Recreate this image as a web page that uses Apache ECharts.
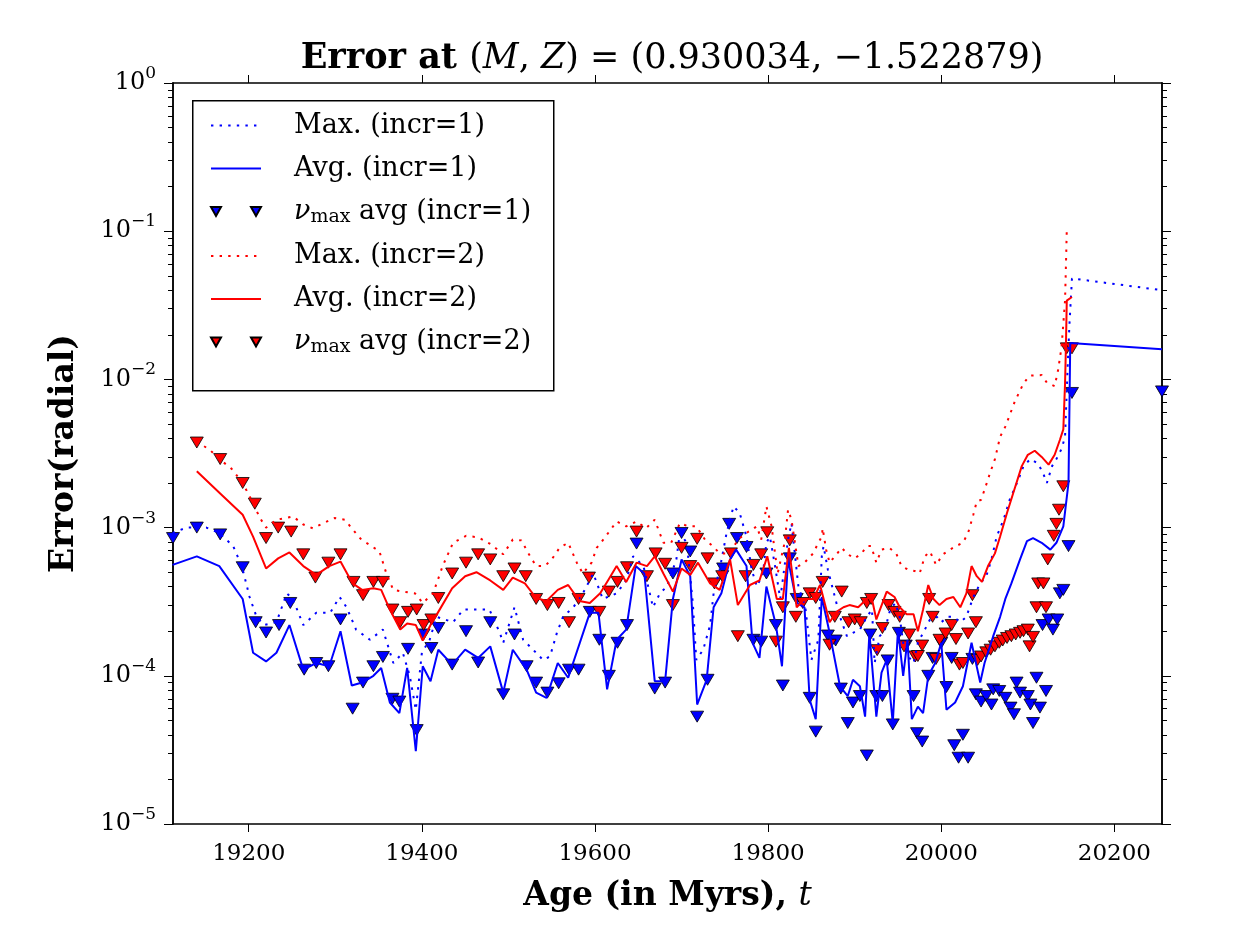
<!DOCTYPE html>
<html>
<head>
<meta charset="utf-8">
<script src="https://cdn.jsdelivr.net/npm/echarts@6/dist/echarts.min.js"></script>
<style>
html,body{margin:0;padding:0;background:#fff;}
#chart{width:1250px;height:938px;}
</style>
</head>
<body>
<div id="chart"></div>
<script>
// ---------------- data (age in Myrs, radial error) ----------------
const xTickValues = [19200, 19400, 19600, 19800, 20000, 20200];
const yTickValues = [1e-5, 1e-4, 1e-3, 1e-2, 1e-1, 1];

const max1 = [[19112,9.2e-4],[19128,1.0e-3],[19151,1.0e-3],[19166,9.2e-4],[19182,7.5e-4],[19192,5.5e-4],[19201,3.4e-4],[19209,2.5e-4],[19218,2.2e-4],[19232,2.3e-4],[19244,3.6e-4],[19251,3.3e-4],[19263,2.2e-4],[19278,2.66e-4],[19294,2.66e-4],[19305,3.4e-4],[19313,2.9e-4],[19324,2.05e-4],[19340,1.75e-4],[19355,2.05e-4],[19367,1.22e-4],[19378,1.43e-4],[19386,1.0e-4],[19393,5.9e-5],[19400,1.43e-4],[19409,1.75e-4],[19417,2.5e-4],[19436,2.3e-4],[19448,2.8e-4],[19463,2.8e-4],[19478,2.8e-4],[19490,1.95e-4],[19494,1.67e-4],[19507,2.9e-4],[19517,1.75e-4],[19532,1.43e-4],[19540,1.28e-4],[19548,1.35e-4],[19556,1.95e-4],[19563,2.5e-4],[19575,2.9e-4],[19586,3.6e-4],[19598,4.9e-4],[19609,3.3e-4],[19625,3.6e-4],[19636,4.4e-4],[19644,6.4e-4],[19656,5.5e-4],[19667,2.9e-4],[19675,3.6e-4],[19683,4.0e-4],[19694,6.1e-4],[19698,9.2e-4],[19706,7.9e-4],[19713,3.1e-4],[19717,1.28e-4],[19725,1.5e-4],[19733,2.2e-4],[19737,3.6e-4],[19744,5.2e-4],[19752,9.2e-4],[19760,1.39e-3],[19767,1.26e-3],[19775,8.7e-4],[19781,5.2e-4],[19787,4.0e-4],[19794,4.9e-4],[19798,7.9e-4],[19802,8.7e-4],[19808,5.5e-4],[19814,3.3e-4],[19823,8.3e-4],[19827,1.07e-3],[19835,4.0e-4],[19843,2.9e-4],[19850,1.28e-4],[19858,1.75e-4],[19862,6.4e-4],[19864,7.5e-4],[19869,5.2e-4],[19875,3.8e-4],[19883,2.5e-4],[19891,1.85e-4],[19898,1.95e-4],[19906,2.05e-4],[19914,2.5e-4],[19920,2.8e-4],[19923,1.22e-4],[19929,1.85e-4],[19935,2.05e-4],[19941,2.8e-4],[19947,3.1e-4],[19952,2.5e-4],[19956,1.67e-4],[19962,1.35e-4],[19968,1.22e-4],[19973,1.67e-4],[19981,2.05e-4],[19987,2.4e-4],[19995,2.5e-4],[20000,2.3e-4],[20008,2.5e-4],[20014,2.5e-4],[20022,2.3e-4],[20029,2.5e-4],[20037,3.4e-4],[20045,4.2e-4],[20052,4.7e-4],[20058,6.1e-4],[20064,8.7e-4],[20072,1.13e-3],[20079,1.54e-3],[20089,2.1e-3],[20095,2.6e-3],[20103,2.9e-3],[20112,2.7e-3],[20118,2.3e-3],[20122,2.0e-3],[20128,2.6e-3],[20133,2.9e-3],[20139,3.4e-3],[20143,4.1e-3],[20146,1.22e-2],[20148,2.3e-2],[20151,4.8e-2],[20255,4.0e-2]];

const avg1 = [[19112,5.6e-4],[19140,6.4e-4],[19166,5.5e-4],[19193,3.3e-4],[19205,1.43e-4],[19220,1.25e-4],[19232,1.43e-4],[19247,2.2e-4],[19263,1.1e-4],[19278,1.22e-4],[19293,1.16e-4],[19306,2.0e-4],[19319,8.6e-5],[19331,9.0e-5],[19344,1.0e-4],[19353,1.13e-4],[19363,6.6e-5],[19374,5.6e-5],[19383,1.13e-4],[19393,3.1e-5],[19401,1.16e-4],[19410,9.2e-5],[19419,1.5e-4],[19435,1.19e-4],[19450,1.5e-4],[19465,1.32e-4],[19479,1.58e-4],[19494,7.7e-5],[19505,1.5e-4],[19521,1.1e-4],[19532,7.7e-5],[19544,7.1e-5],[19557,1.22e-4],[19569,9.7e-5],[19594,2.66e-4],[19604,2.66e-4],[19614,8.1e-5],[19625,1.75e-4],[19636,2.05e-4],[19647,5.5e-4],[19657,4.9e-4],[19669,9.2e-5],[19681,9.2e-5],[19690,3.3e-4],[19700,6.1e-4],[19710,4.7e-4],[19718,6.4e-5],[19729,9.4e-5],[19737,2.9e-4],[19746,3.6e-4],[19756,6.1e-4],[19763,7.1e-4],[19775,5.5e-4],[19782,1.67e-4],[19790,1.32e-4],[19798,4.0e-4],[19809,2.2e-4],[19816,1.16e-4],[19823,6.1e-4],[19833,3.1e-4],[19842,2.9e-4],[19848,6.9e-5],[19855,5.1e-5],[19862,3.4e-4],[19871,1.95e-4],[19883,8.5e-5],[19892,7.3e-5],[19898,9.4e-5],[19906,8.5e-5],[19912,5.3e-5],[19917,1.95e-4],[19925,5.3e-5],[19931,1.05e-4],[19937,1.28e-4],[19944,4.8e-5],[19950,2.05e-4],[19956,1.0e-4],[19961,1.75e-4],[19966,5.1e-5],[19973,6.2e-5],[19979,5.6e-5],[19985,1.0e-4],[19993,1.22e-4],[20000,1.67e-4],[20006,5.9e-5],[20016,6.6e-5],[20025,8.5e-5],[20035,1.67e-4],[20045,9.0e-5],[20050,1.22e-4],[20060,1.85e-4],[20068,2.5e-4],[20074,3.3e-4],[20081,4.2e-4],[20091,6.1e-4],[20099,8.1e-4],[20106,8.5e-4],[20116,7.9e-4],[20126,7.1e-4],[20133,7.9e-4],[20141,1.02e-3],[20147,2.0e-3],[20149,1.76e-2],[20255,1.6e-2]];

const nu1 = [[19112.5,8.5e-4],[19140,1.0e-3],[19167,9.0e-4],[19193,5.4e-4],[19208,2.3e-4],[19220,1.96e-4],[19235,2.2e-4],[19248,3.1e-4],[19264,1.1e-4],[19278,1.22e-4],[19292,1.16e-4],[19306,2.4e-4],[19320,6.0e-5],[19332,9.0e-5],[19344,1.16e-4],[19355,1.34e-4],[19366,7.0e-5],[19374,6.7e-5],[19384,1.52e-4],[19394,4.3e-5],[19402,1.9e-4],[19411,1.54e-4],[19419,2.1e-4],[19435,1.19e-4],[19451,2.0e-4],[19465,1.23e-4],[19479,2.3e-4],[19494,7.5e-5],[19507,1.9e-4],[19521,1.16e-4],[19532,9.0e-5],[19545,7.7e-5],[19558,8.9e-5],[19570,1.1e-4],[19581,1.1e-4],[19594,2.7e-4],[19605,1.75e-4],[19616,1.0e-4],[19626,1.67e-4],[19637,2.2e-4],[19648,7.8e-4],[19669,8.2e-5],[19681,9.0e-5],[19690,4.9e-4],[19700,9.2e-4],[19710,6.9e-4],[19718,5.3e-5],[19730,9.4e-5],[19748,5.3e-4],[19755,1.06e-3],[19764,8.5e-4],[19775,7.4e-4],[19783,1.75e-4],[19792,1.7e-4],[19798,4.9e-4],[19809,2.2e-4],[19817,8.6e-5],[19825,6.2e-4],[19833,3.3e-4],[19848,7.1e-5],[19855,4.2e-5],[19869,1.87e-4],[19878,1.73e-4],[19884,8.2e-5],[19892,4.8e-5],[19898,6.6e-5],[19906,7.3e-5],[19914,2.9e-5],[19918,1.9e-4],[19925,7.3e-5],[19932,7.3e-5],[19938,1.27e-4],[19944,4.7e-5],[19951,1.95e-4],[19959,1.6e-4],[19968,7.3e-5],[19972,4.1e-5],[19978,3.6e-5],[19985,1.0e-4],[19990,1.32e-4],[20000,1.67e-4],[20006,8.4e-5],[20012,1.32e-4],[20015,3.4e-5],[20020,2.8e-5],[20025,4.0e-5],[20031,2.8e-5],[20036,1.3e-4],[20040,7.5e-5],[20046,6.7e-5],[20052,7.3e-5],[20058,6.4e-5],[20060,8.1e-5],[20067,7.9e-5],[20074,7.1e-5],[20080,6.1e-5],[20084,5.5e-5],[20087,9.0e-5],[20091,7.7e-5],[20100,7.3e-5],[20103,6.4e-5],[20106,4.8e-5],[20110,9.7e-5],[20114,6.1e-5],[20121,7.9e-5],[20117,2.2e-4],[20124,2.4e-4],[20129,2.05e-4],[20134,2.4e-4],[20137,3.6e-4],[20141,3.8e-4],[20147,7.5e-4],[20151,8.1e-3],[20255,8.3e-3]];

const max2 = [[19140,3.8e-3],[19155,3.35e-3],[19166,2.9e-3],[19180,2.5e-3],[19193,2.0e-3],[19203,1.54e-3],[19213,1.16e-3],[19220,1.0e-3],[19232,1.13e-3],[19242,1.16e-3],[19251,1.19e-3],[19263,1.05e-3],[19274,9.9e-4],[19286,1.07e-3],[19299,1.16e-3],[19311,1.13e-3],[19319,9.9e-4],[19330,8.3e-4],[19342,7.5e-4],[19351,6.9e-4],[19359,4.9e-4],[19367,3.8e-4],[19378,3.7e-4],[19392,3.6e-4],[19401,3.1e-4],[19413,3.6e-4],[19424,5.5e-4],[19436,7.9e-4],[19451,8.8e-4],[19465,8.6e-4],[19480,7.7e-4],[19494,6.6e-4],[19505,8.3e-4],[19515,8.2e-4],[19523,6.7e-4],[19532,5.5e-4],[19542,5.5e-4],[19550,6.1e-4],[19559,7.3e-4],[19569,7.9e-4],[19579,5.8e-4],[19586,4.9e-4],[19596,5.8e-4],[19602,7.3e-4],[19611,8.5e-4],[19625,1.1e-3],[19636,1.02e-3],[19648,1.1e-3],[19659,9.9e-4],[19669,1.13e-3],[19679,7.9e-4],[19688,7.9e-4],[19698,1.07e-3],[19708,1.02e-3],[19717,1.02e-3],[19727,8.3e-4],[19736,7.5e-4],[19744,6.7e-4],[19756,6.7e-4],[19765,8.3e-4],[19775,9.2e-4],[19787,1.02e-3],[19792,8.3e-4],[19798,1.39e-3],[19804,1.02e-3],[19811,4.9e-4],[19819,7.9e-4],[19823,1.32e-3],[19827,1.13e-3],[19835,5.5e-4],[19842,5.8e-4],[19852,6.7e-4],[19858,7.9e-4],[19862,8.7e-4],[19863,9.9e-4],[19867,7.1e-4],[19871,5.8e-4],[19879,6.6e-4],[19885,7.3e-4],[19892,6.6e-4],[19900,6.2e-4],[19908,6.7e-4],[19914,7.5e-4],[19919,7.5e-4],[19925,5.8e-4],[19931,7.1e-4],[19940,7.3e-4],[19948,6.7e-4],[19954,5.5e-4],[19962,5.2e-4],[19969,5.1e-4],[19975,4.9e-4],[19981,6.4e-4],[19987,6.9e-4],[19994,5.6e-4],[20002,6.6e-4],[20010,7.1e-4],[20017,7.5e-4],[20025,7.9e-4],[20031,9.2e-4],[20037,1.22e-3],[20041,1.5e-3],[20046,1.54e-3],[20050,1.8e-3],[20056,2.3e-3],[20062,2.9e-3],[20068,4.1e-3],[20074,4.8e-3],[20085,7.1e-3],[20095,9.4e-3],[20102,1.06e-2],[20116,1.07e-2],[20122,9.5e-3],[20131,9.0e-3],[20135,1.16e-2],[20139,1.66e-2],[20143,3.4e-2],[20144,5.8e-2],[20145,1.02e-1]];

const avg2 = [[19140,2.4e-3],[19167,1.7e-3],[19193,1.22e-3],[19205,8.7e-4],[19220,5.3e-4],[19234,6.2e-4],[19247,6.8e-4],[19263,5.5e-4],[19278,4.8e-4],[19293,5.5e-4],[19306,5.9e-4],[19320,4.2e-4],[19331,3.8e-4],[19344,3.9e-4],[19353,3.8e-4],[19363,2.8e-4],[19375,2.05e-4],[19383,2.25e-4],[19393,2.2e-4],[19401,1.73e-4],[19410,2.2e-4],[19419,2.7e-4],[19435,3.9e-4],[19450,4.7e-4],[19463,5.0e-4],[19479,4.4e-4],[19494,3.8e-4],[19505,4.6e-4],[19519,4.2e-4],[19532,3.35e-4],[19544,3.2e-4],[19557,3.8e-4],[19569,4.1e-4],[19582,3.2e-4],[19594,3.1e-4],[19606,3.6e-4],[19615,4.4e-4],[19625,5.5e-4],[19636,4.3e-4],[19648,5.8e-4],[19660,5.5e-4],[19669,6.4e-4],[19679,4.9e-4],[19690,3.7e-4],[19700,5.3e-4],[19710,4.8e-4],[19719,5.8e-4],[19733,4.2e-4],[19744,3.8e-4],[19756,6.1e-4],[19765,3.0e-4],[19779,4.1e-4],[19790,4.4e-4],[19799,6.4e-4],[19810,3.3e-4],[19817,3.3e-4],[19824,7.3e-4],[19833,2.9e-4],[19842,3.3e-4],[19852,3.3e-4],[19860,4.1e-4],[19871,2.3e-4],[19879,2.7e-4],[19887,2.9e-4],[19894,3.0e-4],[19904,2.9e-4],[19914,3.3e-4],[19919,3.5e-4],[19925,2.4e-4],[19937,3.7e-4],[19946,3.4e-4],[19952,2.9e-4],[19960,2.6e-4],[19968,2.6e-4],[19973,2.0e-4],[19979,2.8e-4],[19985,4.1e-4],[19991,3.3e-4],[19998,3.0e-4],[20006,3.3e-4],[20014,3.4e-4],[20022,2.9e-4],[20029,3.6e-4],[20035,5.5e-4],[20041,4.7e-4],[20047,4.3e-4],[20054,5.5e-4],[20062,6.7e-4],[20068,8.7e-4],[20076,1.26e-3],[20083,1.7e-3],[20093,2.6e-3],[20100,3.1e-3],[20108,3.3e-3],[20116,3.0e-3],[20124,2.66e-3],[20131,3.1e-3],[20137,3.9e-3],[20141,4.6e-3],[20143,9.4e-3],[20144,1.66e-2],[20145,3.4e-2],[20151,3.6e-2]];

const nu2 = [[19140,3.75e-3],[19167,2.9e-3],[19193,2.0e-3],[19207,1.45e-3],[19220,8.5e-4],[19234,1.0e-3],[19249,9.4e-4],[19263,6.6e-4],[19277,4.6e-4],[19292,5.8e-4],[19306,6.6e-4],[19321,4.3e-4],[19332,3.5e-4],[19344,4.3e-4],[19355,4.3e-4],[19366,2.8e-4],[19375,2.3e-4],[19384,2.7e-4],[19394,2.8e-4],[19402,2.2e-4],[19411,2.4e-4],[19419,3.35e-4],[19435,4.9e-4],[19451,5.8e-4],[19465,6.6e-4],[19479,6.1e-4],[19494,4.7e-4],[19507,5.3e-4],[19520,4.7e-4],[19532,3.3e-4],[19545,3.0e-4],[19558,3.1e-4],[19570,2.3e-4],[19581,3.3e-4],[19593,4.6e-4],[19605,2.7e-4],[19616,3.7e-4],[19626,4.3e-4],[19637,5.4e-4],[19648,9.4e-4],[19660,4.7e-4],[19670,6.7e-4],[19681,5.7e-4],[19690,3.0e-4],[19700,7.3e-4],[19710,5.5e-4],[19718,8.4e-4],[19730,6.2e-4],[19738,4.2e-4],[19747,4.7e-4],[19757,6.7e-4],[19765,1.85e-4],[19774,4.7e-4],[19783,5.6e-4],[19792,6.6e-4],[19799,9.3e-4],[19809,1.7e-4],[19817,2.9e-4],[19825,8.2e-4],[19832,2.5e-4],[19840,3.1e-4],[19848,3.6e-4],[19855,3.35e-4],[19863,4.3e-4],[19871,1.62e-4],[19877,2.5e-4],[19885,3.7e-4],[19893,2.3e-4],[19900,2.4e-4],[19907,2.3e-4],[19914,3.1e-4],[19919,3.3e-4],[19926,1.49e-4],[19932,2.1e-4],[19939,3.0e-4],[19946,2.7e-4],[19952,2.5e-4],[19957,1.58e-4],[19963,1.9e-4],[19970,1.35e-4],[19973,1.36e-4],[19978,1.6e-4],[19986,3.3e-4],[19990,2.5e-4],[19994,1.3e-4],[19998,1.75e-4],[20005,1.93e-4],[20012,2.2e-4],[20017,1.77e-4],[20021,1.19e-4],[20025,1.22e-4],[20031,1.93e-4],[20036,3.5e-4],[20040,2.3e-4],[20042,1.28e-4],[20046,1.35e-4],[20052,1.44e-4],[20057,1.5e-4],[20062,1.58e-4],[20067,1.67e-4],[20071,1.73e-4],[20076,1.8e-4],[20081,1.85e-4],[20086,1.9e-4],[20091,1.95e-4],[20095,2.0e-4],[20100,2.05e-4],[20102,1.58e-4],[20106,1.83e-4],[20110,2.9e-4],[20121,2.9e-4],[20112,4.2e-4],[20118,4.2e-4],[20123,6.1e-4],[20130,8.8e-4],[20133,1.06e-3],[20136,1.32e-3],[20141,1.9e-3],[20145,1.62e-2],[20151,1.62e-2]];

const legendNames = ['Max. (incr=1)', 'Avg. (incr=1)', 'νmax avg (incr=1)', 'Max. (incr=2)', 'Avg. (incr=2)', 'νmax avg (incr=2)'];

// ---------------- chart ----------------
const FONT = 'DejaVu Serif';
const BLUE = '#0000ff', RED = '#ff0000';
const X_MIN = 19112.5, X_MAX = 20255;
const Y_MIN = 1e-5, Y_MAX = 1;

const minorTicks = [];
for (let e = -5; e < 0; e++) for (let m = 2; m <= 9; m++) minorTicks.push(m * Math.pow(10, e));

const triIcon = 'path://M0,0L10,0L5,9ZM40,0L50,0L45,9Z';

function expLabel(v) {
  const e = Math.round(Math.log10(v));
  return '{b|10}{s|' + (e < 0 ? '\u2212' + (-e) : String(e)) + '}';
}

function yAxisDef(pos, minor, labels) {
  return {
    type: 'log', logBase: 10, min: Y_MIN, max: Y_MAX, position: pos,
    axisLine: { show: true, onZero: false, lineStyle: { color: '#000', width: 1.5 } },
    axisTick: { show: true, inside: false, length: minor ? 5 : 9, customValues: minor ? minorTicks : yTickValues,
      lineStyle: { color: '#000', width: 1 } },
    axisLabel: labels ? {
      show: true, customValues: yTickValues, margin: 17, formatter: expLabel,
      rich: {
        b: { fontFamily: FONT, fontSize: 24, color: '#000', lineHeight: 36, verticalAlign: 'middle' },
        s: { fontFamily: FONT, fontSize: 17, color: '#000', lineHeight: 17, verticalAlign: 'top' }
      }
    } : { show: false },
    splitLine: { show: false },
    minorTick: { show: false }
  };
}

const chart = echarts.init(document.getElementById('chart'), null, { renderer: 'canvas' });

const lineSeries = (name, data, color, dotted) => ({
  name, type: 'line', data, xAxisIndex: 0, yAxisIndex: 0,
  symbol: 'none', showSymbol: false, clip: true, animation: false,
  lineStyle: { color, width: 2, type: dotted ? [2.4, 6.2] : 'solid', cap: 'butt' },
  itemStyle: { color }
});
const triSeries = (name, data, color) => ({
  name, type: 'scatter', data, xAxisIndex: 0, yAxisIndex: 0,
  symbol: 'triangle', symbolRotate: 180, symbolSize: [13, 11], clip: true, animation: false,
  itemStyle: { color, borderColor: '#000', borderWidth: 0.8, opacity: 1 }
});

const legendRich = {
  p: { fontFamily: FONT, fontSize: 27, color: '#000', lineHeight: 30, padding: [0, 0, 0, 28], verticalAlign: 'middle' },
  t: { fontFamily: FONT, fontSize: 27, color: '#000', lineHeight: 30, verticalAlign: 'middle' },
  nu: { fontFamily: FONT, fontSize: 27, fontStyle: 'italic', color: '#000', lineHeight: 30, padding: [0, 0, 0, 28], verticalAlign: 'middle' },
  sub: { fontFamily: FONT, fontSize: 19, color: '#000', lineHeight: 19, verticalAlign: 'bottom' }
};
const hiddenSymbol = { color: 'rgba(0,0,0,0)', borderWidth: 0, opacity: 0 };

chart.setOption({
  animation: false,
  backgroundColor: '#fff',
  title: {
    left: 667, top: 36, textAlign: 'center',
    text: '{b|Error at }{n|(}{i|M}{n|, }{i|Z}{n|) = (0.930034, \u22121.522879)}',
    textStyle: {
      rich: {
        b: { fontFamily: FONT, fontSize: 35, fontWeight: 'bold', color: '#000' },
        n: { fontFamily: FONT, fontSize: 35, fontWeight: 'normal', color: '#000' },
        i: { fontFamily: FONT, fontSize: 35, fontWeight: 'normal', fontStyle: 'italic', color: '#000' }
      }
    }
  },
  grid: { left: 173, top: 83, width: 989, height: 741, containLabel: false, show: false },
  xAxis: [
    {
      type: 'value', min: X_MIN, max: X_MAX, position: 'bottom',
      axisLine: { show: true, onZero: false, lineStyle: { color: '#000', width: 1.5 } },
      axisTick: { show: true, inside: false, length: 8, customValues: xTickValues, lineStyle: { color: '#000', width: 1 } },
      axisLabel: { show: true, customValues: xTickValues, margin: 19, formatter: v => String(v),
        fontFamily: FONT, fontSize: 23, color: '#000' },
      splitLine: { show: false },
      name: 'Age (in Myrs), {it|t}', nameLocation: 'middle', nameGap: 56,
      nameTextStyle: { fontFamily: FONT, fontSize: 33, fontWeight: 'bold', color: '#000',
        rich: { it: { fontFamily: FONT, fontSize: 33, fontStyle: 'italic', fontWeight: 'normal', color: '#000' } } }
    },
    {
      type: 'value', min: X_MIN, max: X_MAX, position: 'top',
      axisLine: { show: true, onZero: false, lineStyle: { color: '#000', width: 1.5 } },
      axisTick: { show: true, inside: false, length: 8, customValues: xTickValues, lineStyle: { color: '#000', width: 1 } },
      axisLabel: { show: false },
      splitLine: { show: false }
    }
  ],
  yAxis: [
    Object.assign(yAxisDef('left', false, true), {
      name: 'Error(radial)', nameLocation: 'middle', nameGap: 92, nameRotate: 90,
      nameTextStyle: { fontFamily: FONT, fontSize: 33, fontWeight: 'bold', color: '#000' }
    }),
    yAxisDef('left', true, false),
    yAxisDef('right', false, false),
    yAxisDef('right', true, false)
  ],
  graphic: [{
    type: 'rect', left: 192, top: 100, z: 5,
    shape: { width: 361, height: 290 },
    style: { fill: '#fff', stroke: '#000', lineWidth: 1.5 }
  }],
  legend: {
    z: 20, orient: 'vertical', left: 192, top: 100,
    padding: [12, 10, 12, 18], itemGap: 16, itemWidth: 50, itemHeight: 14,
    selectedMode: false, backgroundColor: 'transparent', borderWidth: 0,
    data: [
      { name: legendNames[0], itemStyle: hiddenSymbol },
      { name: legendNames[1], itemStyle: hiddenSymbol },
      { name: legendNames[2], icon: triIcon },
      { name: legendNames[3], itemStyle: hiddenSymbol },
      { name: legendNames[4], itemStyle: hiddenSymbol },
      { name: legendNames[5], icon: triIcon }
    ],
    formatter: function (name) {
      if (name.indexOf('νmax') === 0) return '{nu|ν}{sub|max}{t|' + name.slice(4) + '}';
      return '{p|' + name + '}';
    },
    textStyle: { rich: legendRich }
  },
  series: [
    lineSeries(legendNames[0], max1, BLUE, true),
    lineSeries(legendNames[1], avg1, BLUE, false),
    triSeries(legendNames[2], nu1, BLUE),
    lineSeries(legendNames[3], max2, RED, true),
    lineSeries(legendNames[4], avg2, RED, false),
    triSeries(legendNames[5], nu2, RED)
  ]
});
</script>
</body>
</html>
